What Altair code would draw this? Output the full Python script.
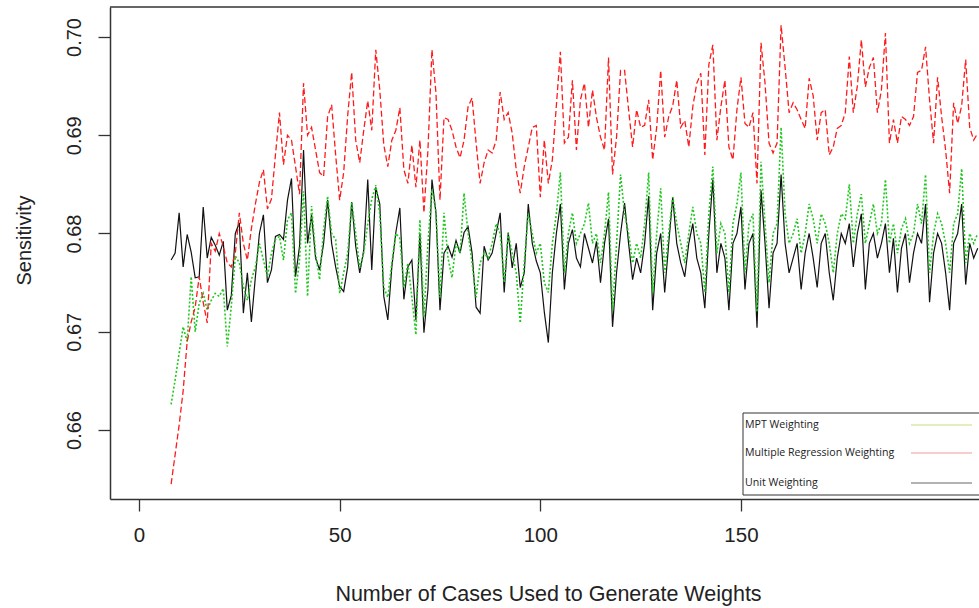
import altair as alt
import pandas as pd

# Number of cases used to generate weights (x)
cases = list(range(8, 210))

# Multiple Regression Weighting (red, dashed)
mr_weighting = [
    0.6545, 0.6575, 0.6605, 0.6640, 0.6690, 0.6710, 0.6725, 0.6756, 0.6730, 0.6709,
    0.6790, 0.6782, 0.6800, 0.6787, 0.6770, 0.6766, 0.6780, 0.6821, 0.6790, 0.6773,
    0.6805, 0.6830, 0.6852, 0.6865, 0.6825, 0.6835, 0.6880, 0.6923, 0.6870, 0.6900,
    0.6895, 0.6868, 0.6840, 0.6953, 0.6900, 0.6908, 0.6885, 0.6862, 0.6858, 0.6919,
    0.6931, 0.6880, 0.6834, 0.6862, 0.6920, 0.6964, 0.6895, 0.6872, 0.6905, 0.6935,
    0.6905, 0.6987, 0.6946, 0.6890, 0.6868, 0.6895, 0.6905, 0.6928, 0.6865, 0.6851,
    0.6890, 0.6847, 0.6895, 0.6821, 0.6885, 0.6987, 0.6943, 0.6834, 0.6918, 0.6916,
    0.6905, 0.6888, 0.6877, 0.6895, 0.6929, 0.6938, 0.6892, 0.6851, 0.6872, 0.6885,
    0.6882, 0.6895, 0.6944, 0.6916, 0.6923, 0.6902, 0.6865, 0.6841, 0.6868, 0.6888,
    0.6908, 0.6910, 0.6837, 0.6895, 0.6851, 0.6875, 0.6930, 0.6985, 0.6892, 0.6898,
    0.6956, 0.6885, 0.6936, 0.6953, 0.6908, 0.6946, 0.6918, 0.6898, 0.6885, 0.6979,
    0.6860, 0.6898, 0.6966, 0.6966, 0.6926, 0.6888, 0.6926, 0.6908, 0.6910, 0.6936,
    0.6875, 0.6908, 0.6966, 0.6898, 0.6919, 0.6930, 0.6956, 0.6908, 0.6915, 0.6888,
    0.6929, 0.6953, 0.6963, 0.6880, 0.6972, 0.6992, 0.6895, 0.6929, 0.6956, 0.6888,
    0.6875, 0.6926, 0.6959, 0.6912, 0.6908, 0.6923, 0.6851, 0.6994, 0.6953, 0.6892,
    0.6882, 0.6892, 0.7012, 0.6969, 0.6923, 0.6933, 0.6926, 0.6916, 0.6907, 0.6958,
    0.6940, 0.6895, 0.6923, 0.6926, 0.6880, 0.6888, 0.6907, 0.6910, 0.6923, 0.6980,
    0.6923, 0.6950, 0.6997, 0.6949, 0.6969, 0.6979, 0.6923, 0.6946, 0.7004, 0.6892,
    0.6916, 0.6892, 0.6919, 0.6916, 0.6910, 0.6919, 0.6964, 0.6966, 0.6990, 0.6936,
    0.6892, 0.6959, 0.6919, 0.6885, 0.6841, 0.6933, 0.6912, 0.6930, 0.6977, 0.6908,
    0.6895, 0.6902,
]

# Unit Weighting (black, solid)
unit_weighting = [
    0.6773, 0.6780, 0.6821, 0.6766, 0.6799, 0.6781, 0.6755, 0.6756, 0.6827, 0.6775,
    0.6796, 0.6788, 0.6778, 0.6792, 0.6722, 0.6737, 0.6800, 0.6811, 0.6719, 0.6760,
    0.6710, 0.6756, 0.6800, 0.6819, 0.6750, 0.6763, 0.6797, 0.6799, 0.6794, 0.6834,
    0.6856, 0.6756, 0.6787, 0.6885, 0.6790, 0.6819, 0.6775, 0.6763, 0.6790, 0.6834,
    0.6790, 0.6766, 0.6746, 0.6741, 0.6766, 0.6832, 0.6787, 0.6760, 0.6783, 0.6855,
    0.6763, 0.6847, 0.6830, 0.6736, 0.6712, 0.6766, 0.6801, 0.6826, 0.6733, 0.6766,
    0.6773, 0.6712, 0.6800, 0.6699, 0.6743, 0.6855, 0.6821, 0.6722, 0.6780, 0.6787,
    0.6776, 0.6793, 0.6780, 0.6801, 0.6807, 0.6780, 0.6725, 0.6719, 0.6787, 0.6773,
    0.6780, 0.6800, 0.6821, 0.6740, 0.6801, 0.6765, 0.6790, 0.6745, 0.6760, 0.6830,
    0.6790, 0.6772, 0.6760, 0.6720, 0.6689, 0.6760, 0.6800, 0.6830, 0.6743, 0.6790,
    0.6804, 0.6775, 0.6766, 0.6800, 0.6785, 0.6770, 0.6792, 0.6750, 0.6790, 0.6815,
    0.6705, 0.6760, 0.6800, 0.6831, 0.6790, 0.6753, 0.6775, 0.6760, 0.6790, 0.6838,
    0.6722, 0.6780, 0.6800, 0.6740, 0.6790, 0.6837, 0.6790, 0.6770, 0.6756, 0.6790,
    0.6810, 0.6775, 0.6760, 0.6724, 0.6800, 0.6855, 0.6760, 0.6790, 0.6775, 0.6722,
    0.6790, 0.6800, 0.6827, 0.6743, 0.6790, 0.6800, 0.6704, 0.6844, 0.6790, 0.6724,
    0.6780, 0.6790, 0.6860, 0.6790, 0.6760, 0.6775, 0.6790, 0.6743, 0.6780, 0.6800,
    0.6775, 0.6745, 0.6790, 0.6800, 0.6760, 0.6732, 0.6775, 0.6800, 0.6790, 0.6810,
    0.6766, 0.6800, 0.6820, 0.6743, 0.6790, 0.6800, 0.6775, 0.6790, 0.6810, 0.6760,
    0.6795, 0.6740, 0.6785, 0.6800, 0.6750, 0.6780, 0.6800, 0.6790, 0.6830, 0.6730,
    0.6780, 0.6800, 0.6790, 0.6760, 0.6722, 0.6790, 0.6800, 0.6830, 0.6748, 0.6790,
    0.6775, 0.6785,
]

# MPT Weighting (green, dotted)
mpt_weighting = [
    0.6626, 0.6651, 0.6678, 0.6705, 0.6690, 0.6756, 0.6700, 0.6729, 0.6739, 0.6722,
    0.6732, 0.6739, 0.6736, 0.6744, 0.6685, 0.6726, 0.6777, 0.6770, 0.6746, 0.6732,
    0.6753, 0.6766, 0.6790, 0.6773, 0.6756, 0.6780, 0.6794, 0.6797, 0.6773, 0.6814,
    0.6821, 0.6739, 0.6773, 0.6843, 0.6736, 0.6828, 0.6780, 0.6753, 0.6804, 0.6838,
    0.6800, 0.6794, 0.6739, 0.6760, 0.6780, 0.6832, 0.6800, 0.6765, 0.6780, 0.6810,
    0.6835, 0.6849, 0.6820, 0.6745, 0.6735, 0.6770, 0.6800, 0.6795, 0.6745, 0.6770,
    0.6735, 0.6697, 0.6814, 0.6715, 0.6790, 0.6845, 0.6822, 0.6735, 0.6821, 0.6775,
    0.6755, 0.6790, 0.6780, 0.6841, 0.6800, 0.6770, 0.6735, 0.6770, 0.6780, 0.6775,
    0.6790, 0.6810, 0.6800, 0.6750, 0.6800, 0.6780, 0.6760, 0.6709, 0.6770, 0.6820,
    0.6800, 0.6780, 0.6790, 0.6750, 0.6740, 0.6790, 0.6820, 0.6862, 0.6760, 0.6800,
    0.6821, 0.6790, 0.6800, 0.6810, 0.6831, 0.6790, 0.6800, 0.6770, 0.6800, 0.6842,
    0.6722, 0.6790, 0.6860, 0.6820, 0.6800, 0.6770, 0.6790, 0.6775, 0.6810, 0.6862,
    0.6740, 0.6800, 0.6846, 0.6760, 0.6800, 0.6837, 0.6810, 0.6790, 0.6770, 0.6800,
    0.6827, 0.6800, 0.6790, 0.6740, 0.6820, 0.6868, 0.6780, 0.6810, 0.6800, 0.6740,
    0.6810, 0.6830, 0.6862, 0.6760, 0.6810, 0.6820, 0.6720, 0.6873, 0.6810, 0.6750,
    0.6800, 0.6810, 0.6908, 0.6820, 0.6790, 0.6800, 0.6815, 0.6780, 0.6800, 0.6830,
    0.6815, 0.6790, 0.6820, 0.6810, 0.6790, 0.6760, 0.6800, 0.6820, 0.6815, 0.6850,
    0.6790, 0.6820, 0.6840, 0.6790, 0.6810, 0.6830, 0.6800, 0.6810, 0.6855, 0.6790,
    0.6810, 0.6780, 0.6805, 0.6815, 0.6790, 0.6800, 0.6830, 0.6810, 0.6860, 0.6760,
    0.6800, 0.6820, 0.6810, 0.6790, 0.6760, 0.6810, 0.6820, 0.6866, 0.6770, 0.6800,
    0.6790, 0.6800,
]

x_ticks = [0, 50, 100, 150]
y_ticks = [0.66, 0.67, 0.68, 0.69, 0.70]
legend_labels = ["MPT Weighting", "Multiple Regression Weighting", "Unit Weighting"]

df = pd.concat([
    pd.DataFrame({"cases": cases, "value": unit_weighting, "series": "Unit Weighting"}),
    pd.DataFrame({"cases": cases, "value": mpt_weighting, "series": "MPT Weighting"}),
    pd.DataFrame({"cases": cases, "value": mr_weighting, "series": "Multiple Regression Weighting"}),
])

W, H = 869, 492
FONT = "Liberation Sans"
INK = "#222222"
FRAME = "#333333"

x_scale = alt.Scale(domain=[-7.23, 209.32], nice=False, zero=False)
y_scale = alt.Scale(domain=[0.65298, 0.70305], nice=False, zero=False)

x_axis = alt.Axis(
    values=x_ticks, grid=False, tickSize=12, tickWidth=1.3, tickColor=FRAME,
    domainColor=FRAME, domainWidth=1.5, labelFont=FONT, labelFontSize=20.5,
    labelColor=INK, labelPadding=30, labelBaseline="alphabetic", labelFlush=False,
    title="Number of Cases Used to Generate Weights", titleFont=FONT,
    titleFontSize=21.5, titleFontWeight="normal", titleColor=INK,
    titleX=438, titleY=101, titleAlign="center", titleBaseline="alphabetic",
)
y_axis = alt.Axis(
    values=y_ticks, format=".2f", grid=False, tickSize=12, tickWidth=1.3,
    tickColor=FRAME, domainColor=FRAME, domainWidth=1.5, labelFont=FONT,
    labelFontSize=20, labelColor=INK, labelAngle=270, labelAlign="center",
    labelBaseline="alphabetic", labelPadding=18, labelFlush=False,
    title="Sensitivity", titleFont=FONT, titleFontSize=20, titleFontWeight="normal",
    titleColor=INK, titleAngle=270, titleX=-80, titleY=233, titleAlign="center",
    titleBaseline="alphabetic",
)

styles = {
    "Unit Weighting": dict(color="#111111", strokeWidth=1.2),
    "MPT Weighting": dict(color="#1ec81e", strokeWidth=1.6, strokeDash=[2, 2]),
    "Multiple Regression Weighting": dict(color="#ff1a1a", strokeWidth=1.3, strokeDash=[6, 3]),
}

layers = []
for name in ["Unit Weighting", "MPT Weighting", "Multiple Regression Weighting"]:
    layers.append(
        alt.Chart(df).transform_filter(alt.datum.series == name)
        .mark_line(clip=True, **styles[name]).encode(
            x=alt.X("cases:Q", scale=x_scale, axis=x_axis),
            y=alt.Y("value:Q", scale=y_scale, axis=y_axis),
        )
    )

dummy = pd.DataFrame({"k": [0]})
top_frame = alt.Chart(dummy).mark_rule(color=FRAME, strokeWidth=1.5).encode(
    x=alt.value(0), x2=alt.value(W), y=alt.value(0)
)

# Legend box (extends past the right edge like the reference)
legend_box = alt.Chart(dummy).mark_rect(fill="white", stroke=FRAME, strokeWidth=1).encode(
    x=alt.value(633), x2=alt.value(W + 40), y=alt.value(406), y2=alt.value(488)
)
legend_rows_y = [418, 446, 476]
legend_line_colors = ["#c6e07a", "#f39a9a", "#666666"]
legend_layers = [legend_box]
for lab, yy, col in zip(legend_labels, legend_rows_y, legend_line_colors):
    legend_layers.append(
        alt.Chart(dummy).mark_text(
            text=lab, font="Open Sans", fontSize=10.6, color=INK, align="left",
            baseline="middle"
        ).encode(x=alt.value(635), y=alt.value(yy))
    )
    legend_layers.append(
        alt.Chart(dummy).mark_rule(color=col, strokeWidth=1.2).encode(
            x=alt.value(801), x2=alt.value(862), y=alt.value(yy)
        )
    )

chart = alt.layer(*layers, top_frame, *legend_layers).properties(
    width=W, height=H,
    padding={"left": 110, "top": 7, "right": 0, "bottom": 109},
    autosize=alt.AutoSizeParams(type="none"),
    background="white",
).configure_view(stroke=None)

chart.save("out.html", embed_options={"renderer": "svg", "actions": False})
